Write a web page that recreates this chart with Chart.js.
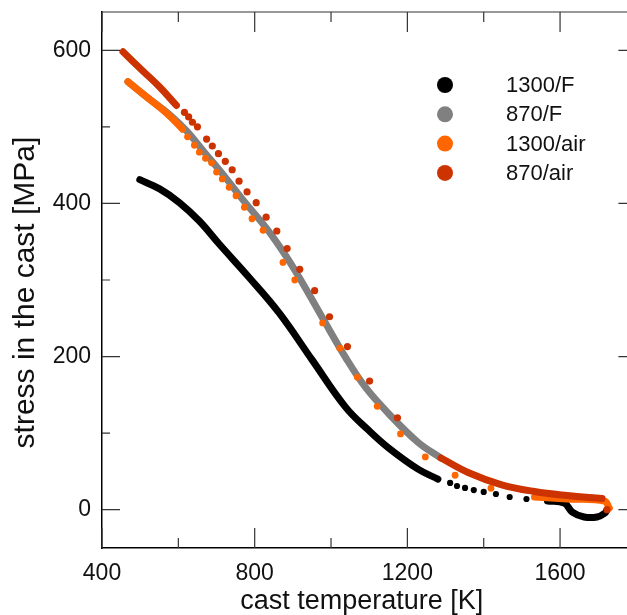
<!DOCTYPE html>
<html>
<head>
<meta charset="utf-8">
<script src="https://cdn.jsdelivr.net/npm/chart.js@4"></script>
<style>
  html, body { margin: 0; padding: 0; background: #fff; }
  #clip { width: 627px; height: 615px; overflow: hidden; }
  #wrap { width: 640px; height: 615px; }
</style>
</head>
<body>
<div id="clip"><div id="wrap"><canvas id="chart_cast_stress"></canvas></div></div>
<script>
// series names and colours
const seriesNames = ['1300/F', '870/F', '1300/air', '870/air'];
const seriesColors = ['#000000', '#808080', '#ff6600', '#cc3300'];

// 1300/F  (temperature K, stress MPa)
const blackLineT = [499, 551, 603, 655, 707, 786, 864, 950, 1038, 1098, 1150, 1228, 1280];
const blackLineS = [431, 419, 401, 377, 347, 303, 257, 196, 134, 104, 81, 53, 40];
const blackDotT = [1312, 1330, 1351, 1374, 1400, 1432, 1468, 1512];
const blackDotS = [35, 31, 28.4, 25.7, 23.2, 20.5, 16.6, 14];
const blackTailT = [1567, 1611, 1632, 1663, 1697, 1718, 1723];
const blackTailS = [11.4, 8.7, -3, -9.5, -9.5, -4.3, 0];

// 870/F
const grayLineT = [468, 525, 577, 621, 668, 720, 772, 830, 877, 916, 976, 1038, 1090, 1150, 1228, 1288];
const grayLineS = [559, 536, 516, 495, 467, 436, 403, 368, 335, 304, 252, 199, 160, 126, 88, 67.5];

// 1300/air
const orangeLineT = [468, 517, 569, 611];
const orangeLineS = [559, 539, 518, 497];
const orangeDotT = [624, 642, 655, 671, 687, 700, 715, 733, 751, 773, 793, 822, 874, 905, 978, 1023, 1069, 1121, 1182, 1247, 1325, 1419];
const orangeDotS = [487, 476, 467, 459, 453, 441, 432, 421, 410, 395, 380, 365, 323, 300, 244, 211, 173, 135, 99, 69, 45, 28];
const orangeTailT = [1533, 1619, 1716, 1729];
const orangeTailS = [16.6, 14, 11.4, 2.2];

// 870/air
const redLineT = [455, 507, 551, 595];
const redLineS = [598, 573, 552, 528];
const redDotT = [616, 627, 637, 650, 674, 689, 705, 723, 741, 759, 780, 804, 830, 858, 885, 918, 957, 996, 1043, 1101, 1174, 1723];
const redDotS = [519, 513, 506, 500, 484, 475, 465, 455, 444, 429, 415, 401, 382, 364, 341, 314, 286, 252, 213, 168, 120, 0];
const redTailT = [1288, 1359, 1445, 1533, 1619, 1710];
const redTailS = [67.5, 48.6, 32.9, 23.8, 18.5, 14.6];

// axis ticks
const xTickValues = [400, 800, 1200, 1600];
const xMinorValues = [600, 1000, 1400];
const yTickValues = [0, 200, 400, 600];
const yMinorValues = [100, 300, 500];

const pts = (xs, ys) => xs.map((x, i) => ({ x: x, y: ys[i] }));

const lineSet = (label, color, xs, ys, order) => ({
  label, order,
  data: pts(xs, ys),
  showLine: true,
  borderColor: color,
  borderWidth: 7,
  borderCapStyle: 'round',
  borderJoinStyle: 'round',
  tension: 0.4,
  pointRadius: 0,
  pointHoverRadius: 0
});

const dotSet = (label, color, xs, ys, order, r) => ({
  label, order,
  data: pts(xs, ys),
  showLine: false,
  backgroundColor: color,
  borderWidth: 0,
  pointRadius: r,
  pointHoverRadius: r
});

const datasets = [
  lineSet('870/air', seriesColors[3], redLineT, redLineS, 0),
  dotSet('870/air', seriesColors[3], redDotT, redDotS, 0, 3.6),
  lineSet('870/air', seriesColors[3], redTailT, redTailS, 0),
  lineSet('1300/air', seriesColors[2], orangeLineT, orangeLineS, 1),
  dotSet('1300/air', seriesColors[2], orangeDotT, orangeDotS, 1, 3.4),
  lineSet('1300/air', seriesColors[2], orangeTailT, orangeTailS, 1),
  lineSet('870/F', seriesColors[1], grayLineT, grayLineS, 2),
  lineSet('1300/F', seriesColors[0], blackLineT, blackLineS, 3),
  dotSet('1300/F', seriesColors[0], blackDotT, blackDotS, 3, 3.1),
  lineSet('1300/F', seriesColors[0], blackTailT, blackTailS, 3)
];

const fontFamily = "'Liberation Sans', Arial, Helvetica, sans-serif";

// inward ticks, top/right frame, legend
const framePlugin = {
  id: 'frame',
  afterDraw(chart) {
    const { ctx, chartArea: a, scales: { x, y } } = chart;
    ctx.save();
    ctx.strokeStyle = '#333';
    ctx.lineWidth = 1.2;
    ctx.beginPath();
    ctx.moveTo(a.left, a.top); ctx.lineTo(a.right, a.top);
    ctx.moveTo(a.right, a.top); ctx.lineTo(a.right, a.bottom);
    const xt = (v, len) => {
      const px = x.getPixelForValue(v);
      ctx.moveTo(px, a.bottom); ctx.lineTo(px, a.bottom - len);
      ctx.moveTo(px, a.top); ctx.lineTo(px, a.top + len);
    };
    const yt = (v, len) => {
      const py = y.getPixelForValue(v);
      ctx.moveTo(a.left, py); ctx.lineTo(a.left + len, py);
      ctx.moveTo(a.right, py); ctx.lineTo(a.right - len, py);
    };
    xTickValues.forEach(v => xt(v, 20));
    xMinorValues.forEach(v => xt(v, 10));
    yTickValues.forEach(v => yt(v, 18));
    yMinorValues.forEach(v => yt(v, 8));
    ctx.stroke();

    // legend
    ctx.font = '22px ' + fontFamily;
    ctx.textBaseline = 'middle';
    ctx.textAlign = 'left';
    seriesNames.forEach((name, i) => {
      const cy = a.top + 73 + i * 29.3;
      ctx.fillStyle = seriesColors[i];
      ctx.beginPath();
      ctx.arc(a.left + 343, cy, 8, 0, Math.PI * 2);
      ctx.fill();
      ctx.fillStyle = '#111';
      ctx.fillText(name, a.left + 404, cy + 1);
    });
    ctx.restore();
  }
};

new Chart('chart_cast_stress', {
  type: 'scatter',
  data: { datasets },
  plugins: [framePlugin],
  options: {
    responsive: true,
    maintainAspectRatio: false,
    animation: false,
    layout: { padding: { top: 12, right: 1, left: 0, bottom: 0 } },
    plugins: { legend: { display: false }, tooltip: { enabled: false } },
    scales: {
      x: {
        type: 'linear',
        min: 400,
        max: 1800,
        afterBuildTicks: s => { s.ticks = xTickValues.map(v => ({ value: v })); },
        afterFit: s => { s.height = 67; s.paddingLeft = 0; s.paddingRight = 0; },
        grid: { display: false, drawTicks: false },
        border: { display: true, color: '#000', width: 1.5 },
        ticks: {
          color: '#111',
          padding: 12,
          maxRotation: 0,
          font: { family: fontFamily, size: 23 },
          callback: v => String(v)
        },
        title: {
          display: true,
          text: 'cast temperature [K]  ',
          color: '#111',
          padding: { top: 0, bottom: -3 },
          font: { family: fontFamily, size: 27 }
        }
      },
      y: {
        type: 'linear',
        min: -50,
        max: 650,
        afterBuildTicks: s => { s.ticks = yTickValues.map(v => ({ value: v })); },
        afterFit: s => { s.width = 102; s.paddingTop = 0; s.paddingBottom = 0; },
        grid: { display: false, drawTicks: false },
        border: { display: true, color: '#000', width: 1.5 },
        ticks: {
          color: '#111',
          padding: 11,
          font: { family: fontFamily, size: 23 },
          callback: v => String(v)
        },
        title: {
          display: true,
          text: 'stress in the cast [MPa]   ',
          color: '#111',
          padding: { top: 8, bottom: 0 },
          font: { family: fontFamily, size: 30 }
        }
      }
    }
  }
});
</script>
</body>
</html>
